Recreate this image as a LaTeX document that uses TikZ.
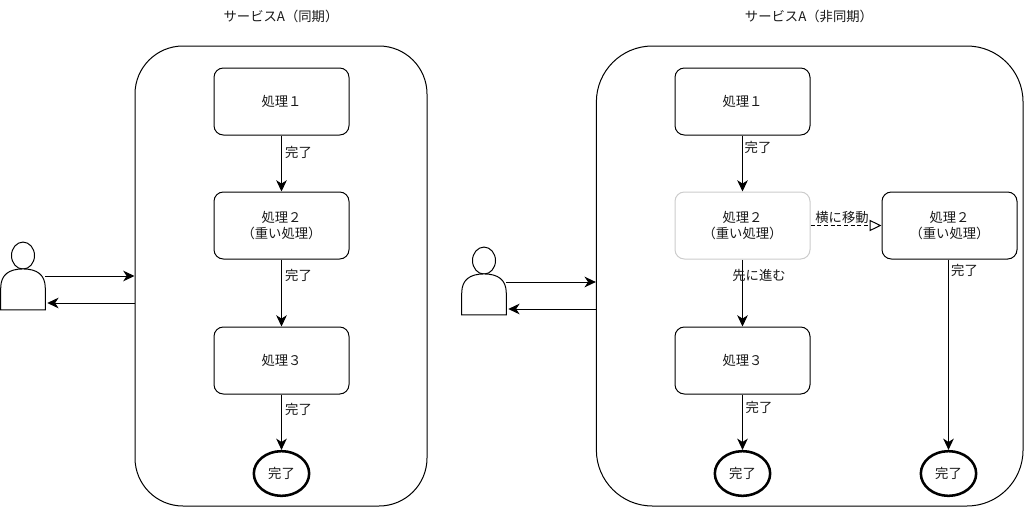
\documentclass[tikz,border=0pt]{standalone}
\usepackage{fontspec}
\setmainfont{Noto Sans CJK JP}
\usetikzlibrary{arrows.meta,calc,shapes.geometric}
\tikzset{
  x=0.75pt,y=-0.75pt,
  every node/.style={font=\fontsize{10}{12.4}\selectfont,text=black!90},
  conn/.style={draw=black,line width=0.75pt,-{Stealth[length=8.5pt,width=8pt,inset=2.6pt]}},
  outer/.style={draw=black,line width=0.75pt,fill=white,inner sep=0pt},
  proc/.style={draw=black,line width=0.75pt,rounded corners=7pt,fill=white,align=center,inner sep=0pt,minimum width=101.25pt,minimum height=50.25pt},
  faded/.style={proc,draw=black!20},
  done/.style={draw=black,line width=1.9pt,ellipse,fill=white,inner sep=0pt,minimum width=41.5pt,minimum height=33.5pt},
  lbl/.style={inner sep=0.5pt},
  personbox/.style={inner sep=0pt,minimum width=33pt,minimum height=50.5pt},
  personline/.style={draw=black,line width=0.75pt,fill=white},
}
\begin{document}
\begin{tikzpicture}
\useasboundingbox (0,0) rectangle (1024,507);
% titles
\node (t1) at (281,16) {サービスA（同期）};
\node (t2) at (809,16) {サービスA（非同期）};
% outer boxes
\node[outer,rounded corners=36pt,minimum width=219pt,minimum height=345pt] (o1) at (281,276) {};
\node[outer,rounded corners=42pt,minimum width=320pt,minimum height=345pt] (o2) at (809.7,276) {};
% left
\node[proc] (a1) at (281.5,101.5) {処理１};
\node[proc] (a2) at (281.5,225.5) {処理２\\（重い処理）};
\node[proc] (a3) at (281.5,360.5) {処理３};
\node[done] (a4) at (281.5,473.5) {完了};
\draw[conn] (a1) -- (a2);
\draw[conn] (a2) -- (a3);
\draw[conn] (a3) -- (a4);
\node[lbl] (la1) at (298.5,152) {完了};
\node[lbl] (la2) at (298.5,275) {完了};
\node[lbl] (la3) at (298.5,409) {完了};
% right
\node[proc] (b1) at (742.5,101.5) {処理１};
\node[faded] (b2) at (742.5,225.5) {処理２\\（重い処理）};
\node[proc] (b3) at (742.5,360.5) {処理３};
\node[done] (b4) at (742.5,473.5) {完了};
\node[proc] (c2) at (949.5,225.5) {処理２\\（重い処理）};
\node[done] (c4) at (948.5,473.5) {完了};
\draw[conn] (b1) -- (b2);
\draw[conn] (b2) -- (b3);
\draw[conn] (b3) -- (b4);
\draw[conn] (c2.south -| c4) -- (c4);
\node[lbl] (lb1) at (758,147) {完了};
\node[lbl] (go) at (759,275) {先に進む};
\node[lbl] (lb3) at (759,407) {完了};
\node[lbl] (lc2) at (964.5,270) {完了};
\draw[draw=black,line width=0.75pt,dashed,dash pattern=on 3pt off 2pt,-{Triangle[open,fill=white,length=9pt,width=8.5pt]}] (b2) -- (c2);
\node[lbl] (mv) at (842,217.5) {横に移動};
% persons
\node[personbox] (p1) at (23,276) {};
\node[personbox] (p2) at (484,281) {};
\foreach \p in {p1,p2}{
  \draw[personline] ($(\p.north)+(0,13.5)$) ellipse [x radius=11.5,y radius=13.5];
  \draw[personline] (\p.south west) -- ($(\p.south west)+(0,-22)$)
    .. controls ($(\p.south west)+(0,-35)$) and ($(\p.south west)+(8,-41)$) .. ($(\p.south)+(0,-41)$)
    .. controls ($(\p.south east)+(-8,-41)$) and ($(\p.south east)+(0,-35)$) .. ($(\p.south east)+(0,-22)$)
    -- (\p.south east) -- cycle;
}
\draw[conn] (p1.east |- 0,276) -- (o1.west |- 0,276);
\draw[conn] (o1.west |- 0,303) -- ($(p1.east |- 0,303)+(2,0)$);
\draw[conn] (p2.east |- 0,282) -- (o2.west |- 0,282);
\draw[conn] (o2.west |- 0,309) -- ($(p2.east |- 0,309)+(2,0)$);
\end{tikzpicture}
\end{document}
